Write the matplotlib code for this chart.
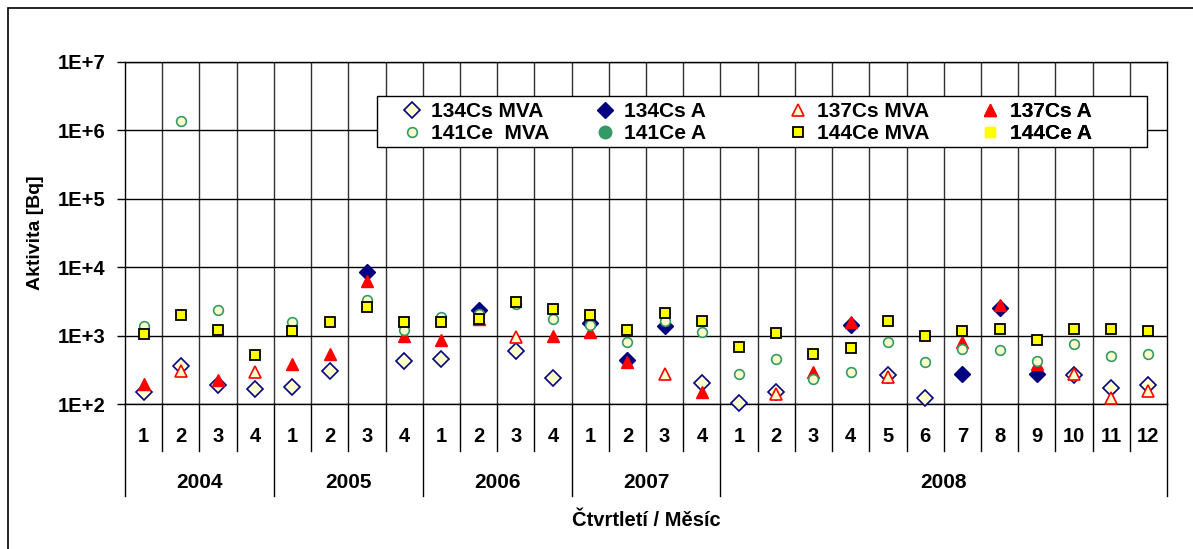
import numpy as np
import matplotlib
matplotlib.use('Agg')
import matplotlib.pyplot as plt
from matplotlib.patches import Rectangle
from matplotlib.ticker import NullLocator
import matplotlib.transforms as mtransforms

plt.rcParams['font.family'] = ['Liberation Sans', 'DejaVu Sans']
plt.rcParams['font.weight'] = 'bold'

nan = np.nan

# categories: quarters 2004-2007, months 2008
periods = ['1', '2', '3', '4'] * 4 + [str(m) for m in range(1, 13)]
years = ['2004', '2005', '2006', '2007', '2008']
year_counts = [4, 4, 4, 4, 12]

cs134_mva = [151, 357, 189, 169, 179, 302, nan, 428, 452, nan, 591, 242, nan, nan, nan, 204,
             105, 151, nan, nan, 265, 125, nan, nan, nan, 265, 175, 189]
cs134_a = [nan, nan, nan, nan, nan, nan, 8450, nan, nan, 2340, nan, nan, 1560, 437, 1410, nan,
           nan, nan, nan, 1460, nan, nan, 273, 2560, 273, nan, nan, nan]
cs137_mva = [nan, 305, nan, 296, nan, nan, nan, nan, nan, nan, 955, nan, nan, nan, 280, nan,
             nan, 140, nan, nan, 250, nan, nan, nan, nan, 280, 125, 156]
cs137_a = [195, nan, 224, nan, 391, 535, 6400, 980, 855, 1770, nan, 980, 1130, 414, nan, 151,
           nan, nan, 296, 1580, nan, nan, 809, 2770, 382, nan, nan, nan]
ce141_mva = [1370, 1.35e6, 2390, nan, 1580, nan, 3340, 1220, 1870, 2090, 2930, 1750, 1460, 809, 1640, 1130,
             280, 457, 237, 292, 809, 418, 646, 625, 423, 748, 500, 547]
ce141_a = [nan] * 28
ce144_mva = [1070, 1980, 1220, 522, 1170, 1580, 2610, 1580, 1580, 1750, 3090, 2470, 2040, 1220, 2160, 1670,
             684, 1110, 547, 655, 1650, 980, 1170, 1260, 855, 1260, 1260, 1170]
ce144_a = [nan] * 28

labels = ['134Cs MVA', '134Cs A', '137Cs MVA', '137Cs A',
          '141Ce  MVA', '141Ce A', '144Ce MVA', '144Ce A']

navy = '#000080'
red = '#FF0000'
green = '#339966'
pale = '#FFFFCC'
yellow = '#FFFF00'

styles = [
    dict(marker='D', ms=8.0, mfc=pale, mec=navy, mew=1.2),
    dict(marker='D', ms=8.6, mfc=navy, mec=navy, mew=1.0),
    dict(marker='^', ms=8.8, mfc=pale, mec=red, mew=1.2),
    dict(marker='^', ms=8.8, mfc=red, mec=red, mew=1.0),
    dict(marker='o', ms=7.0, mfc=pale, mec=green, mew=1.2),
    dict(marker='o', ms=9.0, mfc=green, mec=green, mew=1.0),
    dict(marker='s', ms=7.6, mfc=yellow, mec='black', mew=1.3),
    dict(marker='s', ms=7.6, mfc=yellow, mec=yellow, mew=1.0),
]
series = [cs134_mva, cs134_a, cs137_mva, cs137_a, ce141_mva, ce141_a, ce144_mva, ce144_a]

fig = plt.figure(figsize=(11.93, 5.49), dpi=100)
ax = fig.add_axes([0.1048, 0.2636, 0.8734, 0.624])

x = np.arange(len(periods))
handles = []
for vals, st, lab in zip(series, styles, labels):
    h, = ax.plot(x, vals, linestyle='none', label=lab, clip_on=False, zorder=3, **st)
    handles.append(h)

ax.set_yscale('log')
ax.set_ylim(1e2, 1e7)
ax.set_xlim(-0.5, len(periods) - 0.5)
ax.set_yticks([1e2, 1e3, 1e4, 1e5, 1e6, 1e7])
ax.set_yticklabels(['1E+2', '1E+3', '1E+4', '1E+5', '1E+6', '1E+7'], fontsize=14.5, fontweight='bold')
ax.yaxis.set_minor_locator(NullLocator())
ax.tick_params(axis='y', length=6, width=1, pad=8, color='black')
ax.set_xticks([])
ax.yaxis.grid(True, color='black', lw=1)
for s in ax.spines.values():
    s.set_color('black')
    s.set_linewidth(1)

# vertical grid at category boundaries
trans = mtransforms.blended_transform_factory(ax.transData, ax.transAxes)
for b in np.arange(0.5, len(periods) - 0.5, 1.0):
    ax.axvline(b, color='#303030', lw=1, zorder=1)

# separators below axis
year_edges = np.cumsum([0] + year_counts) - 0.5
for b in np.arange(-0.5, len(periods), 1.0):
    depth = 0.268 if b in year_edges else 0.136
    ax.plot([b, b], [0, -depth], transform=trans, color='black', lw=1, clip_on=False)

for i, p in enumerate(periods):
    ax.text(i, -0.0954, p, transform=trans, ha='center', va='center', fontsize=14.5, fontweight='bold')
for k, yr in enumerate(years):
    xc = (year_edges[k] + year_edges[k + 1]) / 2
    ax.text(xc, -0.227, yr, transform=trans, ha='center', va='center', fontsize=15, fontweight='bold')

ax.text(0.5, -0.338, 'Čtvrtletí / Měsíc', transform=ax.transAxes, ha='center', va='center',
        fontsize=14.5, fontweight='bold')
ax.text(-0.0855, 0.5, 'Aktivita [Bq]', transform=ax.transAxes, ha='center', va='center',
        rotation=90, fontsize=14, fontweight='bold')

# legend box with four evenly spaced columns
ax.add_patch(Rectangle((0.2416, 0.750), 0.7392, 0.150, transform=ax.transAxes,
                       facecolor='white', edgecolor='black', lw=1, zorder=4, clip_on=False))
col_x = [0.2650, 0.4502, 0.6354, 0.8206]
for j in range(4):
    lg = ax.legend(handles=[handles[j], handles[j + 4]], loc='upper left',
                   bbox_to_anchor=(col_x[j], 0.881), frameon=False,
                   borderpad=0, borderaxespad=0, handlelength=1.0, handletextpad=0.45,
                   labelspacing=0.12, prop={'weight': 'bold', 'size': 15})
    lg.set_zorder(5)
    ax.add_artist(lg)

# outer chart border
fig.add_artist(Rectangle((8 / 1193, -0.1), 1.2, 1.1 - 8 / 549, transform=fig.transFigure,
                         fill=False, edgecolor='black', lw=1.2))

fig.savefig('out.png', dpi=100)
